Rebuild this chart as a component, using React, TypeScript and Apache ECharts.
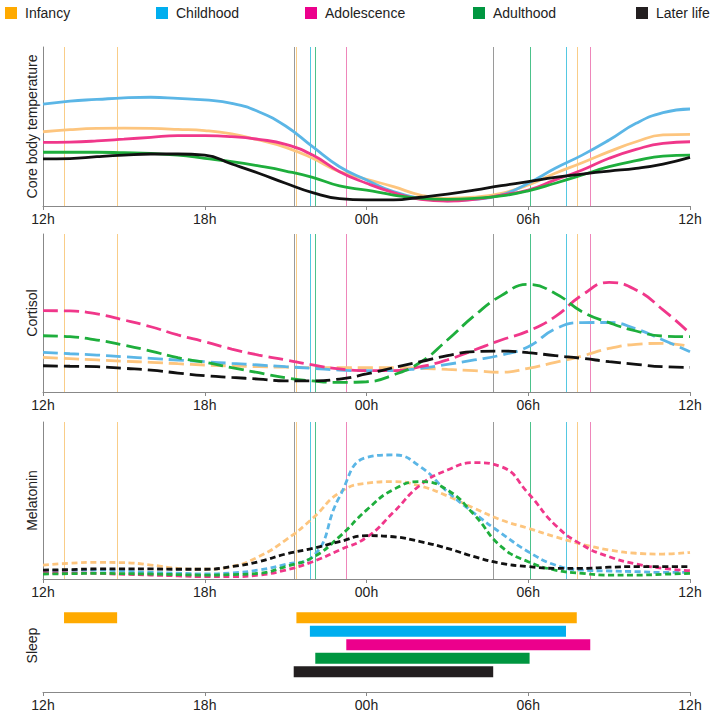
import { useEffect, useRef } from 'react';
import * as echarts from 'echarts';

// hours from noon to noon (12 .. 36)
const hours = [12, 13, 14, 15, 16, 17, 18, 19, 20, 21, 22, 23, 24, 25, 26, 27, 28, 29, 30, 31, 32, 33, 34, 35, 36];
const tickLabels = ['12h', '18h', '00h', '06h', '12h'];

const stages = ['Infancy', 'Childhood', 'Adolescence', 'Adulthood', 'Later life'];

// core body temperature (relative)
const tempInfancy = [46.7, 48.0, 48.8, 49.0, 48.8, 48.2, 47.4, 45.3, 41.5, 36.9, 30.0, 21.6, 16.8, 12.2, 6.9, 4.8, 5.5, 8.0, 13.2, 20.6, 27.2, 34.2, 40.4, 44.7, 45.1];
const tempChildhood = [64.0, 66.0, 67.0, 68.0, 68.4, 67.7, 66.7, 64.6, 59.3, 50.3, 37.3, 24.7, 16.4, 9.0, 4.8, 3.3, 4.2, 6.9, 14.3, 23.7, 32.0, 41.5, 52.0, 58.7, 61.0];
const tempAdolescence = [40.0, 40.2, 40.9, 42.0, 43.2, 44.2, 44.2, 43.6, 41.9, 38.8, 32.0, 21.6, 14.3, 8.4, 4.2, 3.1, 4.2, 6.9, 10.0, 16.4, 22.6, 30.0, 35.6, 39.4, 40.4];
const tempAdulthood = [33.8, 33.8, 33.8, 33.5, 33.1, 32.0, 30.0, 27.9, 25.2, 22.0, 18.0, 12.6, 10.0, 6.9, 4.8, 4.2, 4.8, 6.3, 9.5, 14.3, 19.5, 24.7, 28.5, 31.4, 32.0];
const tempLaterLife = [29.6, 29.8, 31.0, 32.0, 32.7, 32.7, 32.0, 26.4, 20.6, 14.3, 8.4, 4.6, 3.8, 3.8, 5.5, 7.5, 10.0, 12.8, 15.3, 18.0, 20.1, 22.0, 23.7, 26.4, 30.6];

// cortisol (relative)
const cortInfancy = [21.9, 21.1, 20.3, 19.5, 18.8, 17.9, 17.1, 16.5, 16.0, 15.7, 15.4, 15.4, 15.4, 15.4, 15.0, 14.3, 13.5, 12.5, 15.0, 18.8, 22.8, 27.6, 30.2, 30.8, 28.7];
const cortChildhood = [25.1, 24.2, 23.4, 22.3, 21.3, 20.2, 19.2, 18.1, 17.1, 16.0, 15.0, 13.9, 13.5, 13.5, 15.0, 17.5, 20.3, 23.4, 28.7, 39.9, 43.9, 44.0, 39.9, 32.9, 25.5];
const cortAdolescence = [51.5, 51.3, 49.4, 45.6, 41.3, 36.1, 31.8, 27.2, 23.4, 20.3, 17.1, 14.6, 13.5, 13.5, 16.0, 20.3, 26.6, 32.9, 38.6, 47.7, 61.4, 69.4, 64.6, 52.0, 37.1];
const cortAdulthood = [35.6, 35.0, 32.9, 29.7, 25.9, 21.7, 18.8, 15.4, 12.2, 9.0, 7.0, 6.1, 6.5, 10.8, 18.8, 32.9, 48.3, 61.0, 68.1, 62.4, 50.8, 43.9, 38.6, 35.4, 35.0];
const cortLaterLife = [16.6, 16.3, 16.0, 15.0, 13.9, 12.0, 10.3, 9.2, 8.2, 7.0, 7.0, 8.2, 11.4, 15.4, 19.2, 23.0, 25.5, 25.9, 24.9, 23.0, 21.3, 19.2, 17.5, 16.0, 15.6];

// melatonin (relative)
const melInfancy = [8.9, 10.0, 10.6, 10.4, 8.9, 6.8, 6.2, 7.9, 14.2, 24.8, 38.6, 55.0, 61.0, 62.0, 59.2, 52.9, 45.0, 37.6, 32.3, 26.9, 22.1, 18.5, 16.4, 15.9, 17.0];
const melChildhood = [5.3, 5.5, 5.7, 5.0, 4.2, 3.7, 3.2, 3.9, 5.7, 9.3, 14.2, 52.4, 77.4, 79.0, 71.5, 55.6, 41.8, 29.1, 17.4, 8.9, 5.7, 5.1, 4.7, 4.2, 4.2];
const melAdolescence = [4.0, 3.8, 3.6, 3.0, 2.5, 2.0, 1.5, 1.5, 2.5, 5.7, 11.0, 18.5, 26.5, 42.5, 59.9, 69.4, 74.1, 71.5, 54.6, 34.4, 21.7, 14.2, 9.6, 6.8, 5.3];
const melAdulthood = [3.2, 3.4, 3.6, 3.4, 3.2, 2.8, 2.5, 2.8, 3.6, 7.9, 13.7, 27.0, 43.9, 57.0, 62.0, 56.7, 40.8, 20.6, 11.0, 5.7, 3.6, 2.5, 2.5, 3.0, 3.6];
const melLaterLife = [5.7, 6.0, 6.4, 6.4, 6.4, 6.2, 6.2, 7.9, 11.0, 15.9, 19.5, 23.8, 27.6, 26.9, 23.8, 19.5, 14.2, 10.0, 7.9, 6.8, 6.8, 7.5, 7.9, 7.9, 7.9];

// sleep episodes (hours, 24+ = next day)
const sleepStart = [21.4, 21.9, 23.25, 22.1, 21.3];
const sleepEnd = [31.8, 31.4, 32.3, 30.05, 28.7];
const napStart = [12.78];
const napEnd = [14.75];

const panelNames = ['Core body temperature', 'Cortisol', 'Melatonin', 'Sleep'];
const panelValues = [
  [tempInfancy, tempChildhood, tempAdolescence, tempAdulthood, tempLaterLife],
  [cortInfancy, cortChildhood, cortAdolescence, cortAdulthood, cortLaterLife],
  [melInfancy, melChildhood, melAdolescence, melAdulthood, melLaterLife],
];

const legendColors = ['#FFAA00', '#00AEEF', '#EC008C', '#009640', '#231F20'];
const lineColors = ['#FDC57E', '#5BB6E6', '#F0378A', '#1EAE3C', '#111111'];
const markColors = ['#F9CD88', '#55C8E2', '#EE86BA', '#4CC28B', '#9A9A9A'];
const panelDash: any[] = ['solid', [15, 6], [6, 3.5]];

const FONT = '"Liberation Sans", Arial, sans-serif';

export default function App() {
  const chartRef = useRef<HTMLDivElement>(null);

  useEffect(() => {
    if (!chartRef.current) return;
    const chart = echarts.init(chartRef.current, undefined, { renderer: 'svg' });

    const grids = [
      { left: 43, width: 647, top: 47, height: 159 },
      { left: 43, width: 647, top: 234, height: 158 },
      { left: 43, width: 647, top: 422, height: 157 },
      { left: 43, width: 647, top: 611, height: 81 },
    ];

    const xAxes = grids.map((_, i) => ({
      type: 'value',
      gridIndex: i,
      min: 12,
      max: 36,
      interval: 6,
      axisLine: { show: true, lineStyle: { color: '#888', width: 1 } },
      axisTick: { show: true, length: 4, lineStyle: { color: '#888' } },
      axisLabel: {
        margin: 6,
        color: '#222',
        fontSize: 14,
        fontFamily: FONT,
        formatter: (v: number) => tickLabels[Math.round((v - 12) / 6)],
      },
      splitLine: { show: false },
    }));

    const yAxes: any[] = [0, 1, 2].map((i) => ({
      type: 'value',
      gridIndex: i,
      min: 0,
      max: 100,
      name: panelNames[i],
      nameLocation: 'middle',
      nameRotate: 90,
      nameGap: 4,
      nameTextStyle: { color: '#222', fontSize: 14, fontFamily: FONT },
      axisLine: { show: true, lineStyle: { color: '#888', width: 1 } },
      axisTick: { show: false },
      axisLabel: { show: false },
      splitLine: { show: false },
    }));
    yAxes.push({
      type: 'category',
      gridIndex: 3,
      data: ['', 'Later life', 'Adulthood', 'Adolescence', 'Childhood', 'Infancy'],
      name: panelNames[3],
      nameLocation: 'middle',
      nameRotate: 90,
      nameGap: 4,
      nameTextStyle: { color: '#222', fontSize: 14, fontFamily: FONT, padding: [0, 0, 0, 12] },
      axisLine: { show: false },
      axisTick: { show: false },
      axisLabel: { show: false },
      splitLine: { show: false },
    });

    // vertical markers at the start / end of each sleep episode
    const markData: number[][] = [];
    napStart.forEach((s, k) => {
      markData.push([s, 0]);
      markData.push([napEnd[k], 0]);
    });
    stages.forEach((_, i) => {
      markData.push([sleepStart[i], i]);
      markData.push([sleepEnd[i], i]);
    });

    const series: any[] = [];
    panelValues.forEach((panel, p) => {
      series.push({
        type: 'custom',
        name: 'markers',
        xAxisIndex: p,
        yAxisIndex: p,
        z: 1,
        silent: true,
        data: markData,
        encode: { x: 0 },
        renderItem: (_params: any, api: any) => {
          const top = api.coord([api.value(0), 100]);
          const bottom = api.coord([api.value(0), 0]);
          const x = Math.round(top[0]) + 0.5;
          return {
            type: 'line',
            shape: { x1: x, y1: top[1], x2: x, y2: bottom[1] },
            style: { stroke: markColors[api.value(1)], lineWidth: 1 },
          };
        },
      });
      panel.forEach((vals, i) => {
        series.push({
          type: 'line',
          name: stages[i],
          xAxisIndex: p,
          yAxisIndex: p,
          z: 2,
          data: hours.map((h, k) => [h, vals[k]]),
          smooth: 0.5,
          showSymbol: false,
          lineStyle: { color: lineColors[i], width: 2.8, type: panelDash[p] },
          itemStyle: { color: lineColors[i] },
        });
      });
    });

    const sleepRows = [5, 4, 3, 2, 1];
    const sleepData = stages.map((_, i) => [sleepStart[i], sleepEnd[i], sleepRows[i], i]);
    napStart.forEach((s, k) => sleepData.unshift([s, napEnd[k], sleepRows[0], 0]));

    series.push({
      type: 'custom',
      name: 'Sleep',
      xAxisIndex: 3,
      yAxisIndex: 3,
      data: sleepData,
      encode: { x: [0, 1], y: 2 },
      renderItem: (_params: any, api: any) => {
        const a = api.coord([api.value(0), api.value(2)]);
        const b = api.coord([api.value(1), api.value(2)]);
        const h = api.size([0, 1])[1] * 0.8;
        return {
          type: 'rect',
          shape: { x: a[0], y: a[1] - h / 2, width: b[0] - a[0], height: h },
          style: { fill: legendColors[api.value(3)] },
        };
      },
    });

    const legendLeft = [5, 156, 305, 473, 636];

    const option: any = {
      animation: false,
      backgroundColor: '#ffffff',
      legend: stages.map((s, i) => ({
        data: [{ name: s, itemStyle: { color: legendColors[i], borderWidth: 0 } }],
        left: legendLeft[i],
        top: 6,
        padding: 0,
        icon: 'rect',
        itemWidth: 12,
        itemHeight: 12,
        selectedMode: false,
        textStyle: { color: '#222', fontSize: 14, fontFamily: FONT, padding: [0, 0, 0, 3] },
      })),
      grid: grids,
      xAxis: xAxes,
      yAxis: yAxes,
      series,
    };

    chart.setOption(option);
    return () => chart.dispose();
  }, []);

  return (
    <div
      ref={chartRef}
      style={{ position: 'absolute', left: 0, top: 0, width: 713, height: 715, background: '#fff' }}
    />
  );
}
